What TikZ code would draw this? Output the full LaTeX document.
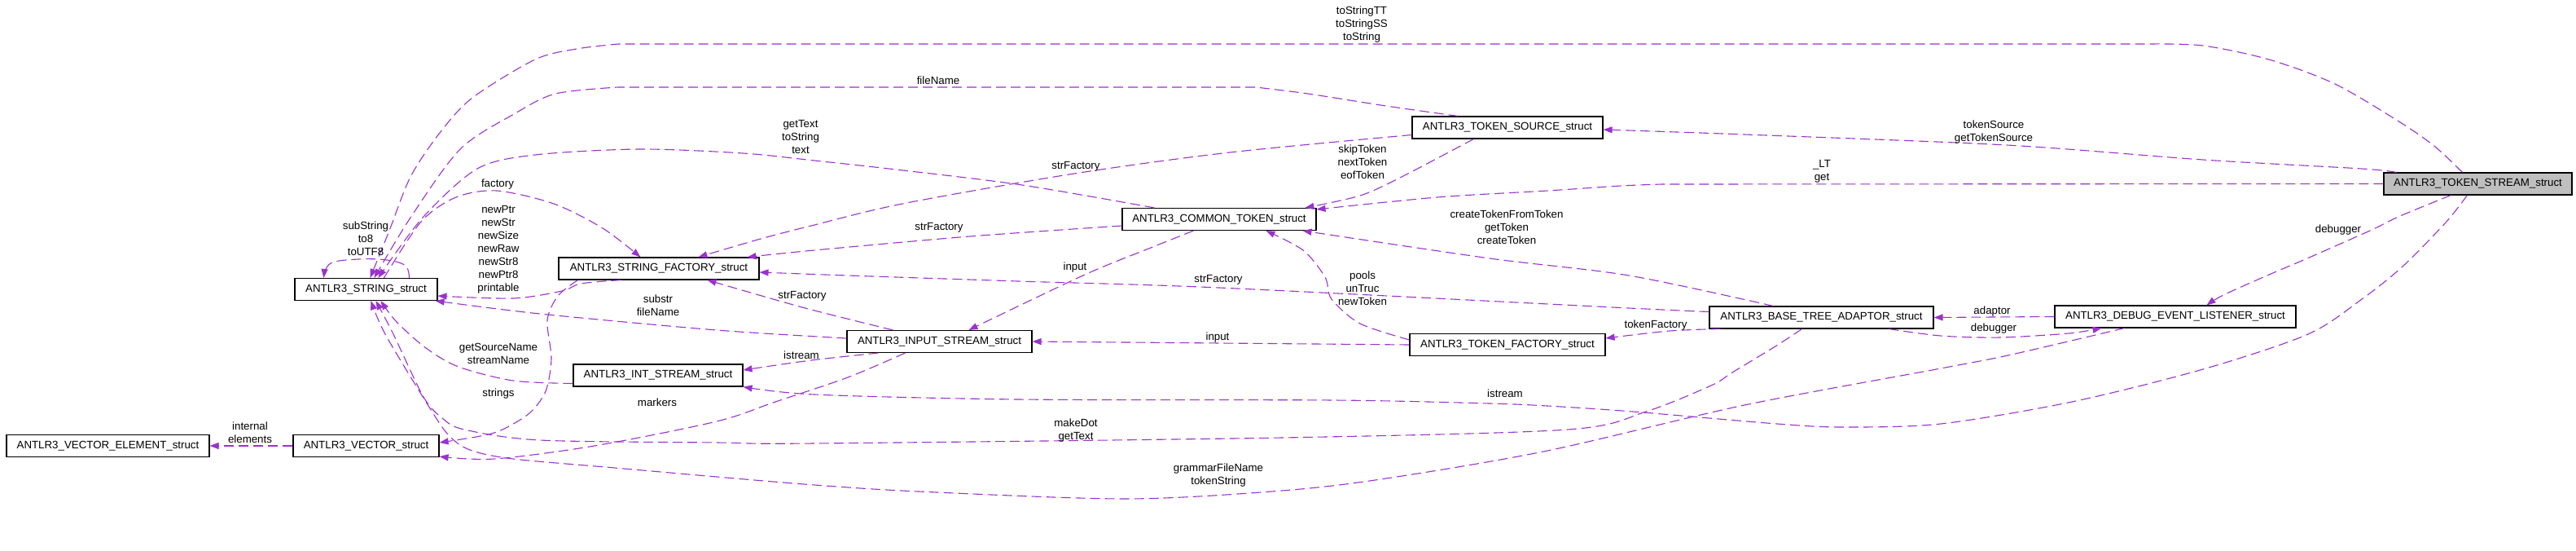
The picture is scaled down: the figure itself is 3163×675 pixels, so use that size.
\documentclass[tikz,border=0pt]{standalone}
\usepackage{fontspec}
\setmainfont{Liberation Sans}
\usetikzlibrary{arrows.meta}
\definecolor{edgec}{HTML}{9A32CD}
\definecolor{boxgray}{HTML}{BFBFBF}
\begin{document}
\begin{tikzpicture}[x=1pt,y=-1pt,
  box/.style={draw=black, line width=1.1pt, minimum height=27pt, inner sep=0pt, font=\fontsize{13.3}{16}\selectfont},
  edge/.style={draw=edgec, line width=1.1pt, dash pattern=on 12pt off 6pt, -{Triangle[length=11pt,width=8pt]}},
  lbl/.style={font=\fontsize{13.3}{16}\selectfont, align=center, inner sep=0pt, text=black}]
\useasboundingbox[fill=white] (0,0) rectangle (3163,675);

% nodes
\node[box, minimum width=231pt, fill=boxgray] (TS) at (3042.5,225.5) {ANTLR3\_TOKEN\_STREAM\_struct};
\node[box, minimum width=234pt] (TSRC) at (1851,156.5) {ANTLR3\_TOKEN\_SOURCE\_struct};
\node[box, minimum width=238pt] (CT) at (1497,269) {ANTLR3\_COMMON\_TOKEN\_struct};
\node[box, minimum width=246pt] (SF) at (809,329.5) {ANTLR3\_STRING\_FACTORY\_struct};
\node[box, minimum width=175pt] (STR) at (449.5,355) {ANTLR3\_STRING\_struct};
\node[box, minimum width=227pt] (IS) at (1153.5,419) {ANTLR3\_INPUT\_STREAM\_struct};
\node[box, minimum width=208pt] (INT) at (808,460.5) {ANTLR3\_INT\_STREAM\_struct};
\node[box, minimum width=249pt] (VE) at (132.5,547) {ANTLR3\_VECTOR\_ELEMENT\_struct};
\node[box, minimum width=179pt] (VEC) at (449.5,547) {ANTLR3\_VECTOR\_struct};
\node[box, minimum width=275pt] (BTA) at (2236.5,389.5) {ANTLR3\_BASE\_TREE\_ADAPTOR\_struct};
\node[box, minimum width=296pt] (DEL) at (2671,388.5) {ANTLR3\_DEBUG\_EVENT\_LISTENER\_struct};
\node[box, minimum width=240pt] (TF) at (1851,423) {ANTLR3\_TOKEN\_FACTORY\_struct};

% edges
% TS -> STR toString
\draw[edge] plot[smooth, tension=0.5] coordinates {([xshift=97pt]TS.north west) (2990,180) (2947,150) (2867,103) (2786,73) (2705,56) (2640,54)}
  -- plot[smooth, tension=0.5] coordinates {(759,54) (708,60) (657,73) (580,120) (540,163) (504,217) (478,283) ([xshift=93pt]STR.north west)};
% TSRC -> STR fileName
\draw[edge] plot[smooth, tension=0.5] coordinates {([xshift=57pt]TSRC.north west) (1702,130) (1606,115) (1542,107)}
  -- plot[smooth, tension=0.5] coordinates {(759,107) (682,115) (631,140) (565,183) (504,267) ([xshift=98pt]STR.north west)};
% CT -> STR getText
\draw[edge] plot[smooth, tension=0.5] coordinates {([xshift=40pt]CT.north west) (1255,227) (1100,208) (1000,197) (912,188) (785,183) (657,190) (586,207) (519,267) ([xshift=103pt]STR.north west)};
% STR -> SF factory
\draw[edge] plot[smooth, tension=0.5] coordinates {([xshift=110pt]STR.north west) (517,272) (560,242) (610,234) (680,250) (740,280) ([xshift=101pt]SF.north west)};
% STR self loop
\draw[edge] plot[smooth, tension=0.6] coordinates {([xshift=141pt]STR.north west) (498,326) (475,319) (440,318) (406,323) ([xshift=36pt]STR.north west)};
% SF -> STR printable
\draw[edge] plot[smooth, tension=0.5] coordinates {([xshift=77pt]SF.south west) (713,348) (690,357) (630,366) ([yshift=-8pt]STR.east)};
% IS -> STR substr
\draw[edge] plot[smooth, tension=0.5] coordinates {([yshift=4pt]IS.west) (880,405) (663,385) ([xshift=-3pt]STR.south east)};
% INT -> STR getSourceName
\draw[edge] plot[smooth, tension=0.5] coordinates {([yshift=-10pt]INT.west) (630,467) (563,450) (523,427) (487,395) ([xshift=106pt]STR.south west)};
% SF -> VEC strings
\draw[edge] plot[smooth, tension=0.5] coordinates {([xshift=24pt]SF.south west) (685,363) (672,393) (677,440) (670,480) (650,507) (617,527) (590,535) ([yshift=4pt]VEC.east)};
% VEC -> VE internal
\draw[edge] (VEC.west) -- (VE.east);
% IS -> VEC markers
\draw[edge] plot[smooth, tension=0.5] coordinates {([xshift=72pt]IS.south west) (1041,463) (952,493) (880,517) (730,547) (607,563) ([yshift=1pt]VEC.south east)};
% BTA -> STR makeDot
\draw[edge] plot[smooth, tension=0.5] coordinates {([xshift=114pt]BTA.south west) (2183,423) (2127,457) (2101,473) (2021,505) (1925,527) (1574,537) (1000,544) (880,543) (663,540) (570,527) (543,513) (520,487) (483,410) ([xshift=100pt]STR.south west)};
% DEL -> STR grammarFileName
\draw[edge] plot[smooth, tension=0.5] coordinates {([xshift=86pt]DEL.south west) (2470,435) (2383,452) (2142,497) (1900,553) (1702,587) (1574,602) (1383,612) (1128,603) (1000,595) (880,585) (755,574) (630,563) (577,552) (550,533) (523,493) (473,410) ([xshift=94pt]STR.south west)};
% TS -> INT istream
\draw[edge] plot[smooth, tension=0.5] coordinates {([xshift=103pt]TS.south west) (3003,273) (2950,327) (2900,367) (2834,410) (2705,453) (2544,493) (2383,520) (2262,524) (2182,520) (2005,505) (1900,498) (1829,495) (1638,491) (1250,490) (1000,484) (INT.south east)};
% TS -> TSRC tokenSource
\draw[edge] plot[smooth, tension=0.5] coordinates {([xshift=16pt]TS.north west) (2900,207) (2705,196) (2464,178) (2142,165) ([yshift=-2.5pt]TSRC.east)};
% TS -> CT _LT
\draw[edge] (TS.west) -- plot[smooth, tension=0.5] coordinates {(2041,226) (1990,228) (1900,234) (1765,242) ([yshift=-2pt]CT.north east)};
% TSRC -> CT skipToken
\draw[edge] plot[smooth, tension=0.5] coordinates {([xshift=76pt]TSRC.south west) (1721,217) (1670,240) ([xshift=225pt]CT.north west)};
% TSRC -> SF strFactory
\draw[edge] plot[smooth, tension=0.5] coordinates {([yshift=-9pt]TSRC.west) (1510,187) (1319,213) (1108,250) (996,277) (934,293) ([xshift=172pt]SF.north west)};
% CT -> SF strFactory
\draw[edge] plot[smooth, tension=0.5] coordinates {([yshift=-8pt]CT.west) (1191,290) (1000,307) ([xshift=232pt]SF.north west)};
% BTA -> SF strFactory
\draw[edge] plot[smooth, tension=0.5] coordinates {([yshift=7pt]BTA.west) (2000,378) (1497,353) (1250,345) (1041,338) ([yshift=-4.5pt]SF.east)};
% IS -> SF strFactory
\draw[edge] plot[smooth, tension=0.5] coordinates {([xshift=57pt]IS.north west) (985,377) ([xshift=183pt]SF.south west)};
% CT -> IS input
\draw[edge] plot[smooth, tension=0.5] coordinates {([xshift=88pt]CT.south west) (1418,302) (1332,337) ([xshift=150pt]IS.north west)};
% TF -> CT pools
\draw[edge] plot[smooth, tension=0.5] coordinates {([yshift=6pt]TF.west) (1670,397) (1635,367) (1627,340) (1600,307) ([xshift=177pt]CT.south west)};
% TF -> IS input
\draw[edge] (TF.west) -- (IS.east);
% BTA -> CT createToken
\draw[edge] plot[smooth, tension=0.5] coordinates {([xshift=79pt]BTA.north west) (2000,338) (1829,317) ([xshift=222pt]CT.south west)};
% BTA -> TF tokenFactory
\draw[edge] plot[smooth, tension=0.5] coordinates {([xshift=14pt]BTA.south west) (2050,406) ([yshift=8pt]TF.east)};
% DEL -> BTA adaptor
\draw[edge] (DEL.west) -- (BTA.east);
% BTA -> DEL debugger
\draw[edge] plot[smooth, tension=0.5] coordinates {([xshift=221pt]BTA.south west) (2383,412) (2456,414) (2540,409) ([xshift=58pt]DEL.south west)};
% TS -> DEL debugger
\draw[edge] plot[smooth, tension=0.5] coordinates {([xshift=83pt]TS.south west) (2947,265) (2910,283) (2833,317) (2786,337) (2730,362) ([xshift=187pt]DEL.north west)};
% IS -> INT istream
\draw[edge] plot[smooth, tension=0.5] coordinates {([xshift=39pt]IS.south west) (996,442) ([yshift=6.5pt]INT.east)};

% labels
\node[lbl] (l1) at (1672,30) {toStringTT\\toStringSS\\toString};
\node[lbl] (l2) at (1152,99) {fileName};
\node[lbl] (l3) at (983,168) {getText\\toString\\text};
\node[lbl] (l4) at (611,226) {factory};
\node[lbl] (l5) at (449,293) {subString\\to8\\toUTF8};
\node[lbl] (l6) at (612,306) {newPtr\\newStr\\newSize\\newRaw\\newStr8\\newPtr8\\printable};
\node[lbl] (l7) at (808,375) {substr\\fileName};
\node[lbl] (l8) at (612,434) {getSourceName\\streamName};
\node[lbl] (l9) at (612,483) {strings};
\node[lbl] (l10) at (307,531) {internal\\elements};
\node[lbl] (l11) at (807,494) {markers};
\node[lbl] (l12) at (1321,528) {makeDot\\getText};
\node[lbl] (l13) at (1496,583) {grammarFileName\\tokenString};
\node[lbl] (l14) at (1848,483) {istream};
\node[lbl] (l15) at (2448,162) {tokenSource\\getTokenSource};
\node[lbl] (l16) at (2237,210) {\_LT\\get};
\node[lbl] (l17) at (1673,199) {skipToken\\nextToken\\eofToken};
\node[lbl] (l18) at (1321,204) {strFactory};
\node[lbl] (l19) at (1153,279) {strFactory};
\node[lbl] (l20) at (1496,343) {strFactory};
\node[lbl] (l21) at (985,363) {strFactory};
\node[lbl] (l22) at (1320,328) {input};
\node[lbl] (l23) at (1673,354) {pools\\unTruc\\newToken};
\node[lbl] (l24) at (1495,414) {input};
\node[lbl] (l25) at (1850,279) {createTokenFromToken\\getToken\\createToken};
\node[lbl] (l26) at (2033,399) {tokenFactory};
\node[lbl] (l27) at (2446,382) {adaptor};
\node[lbl] (l28) at (2448,403) {debugger};
\node[lbl] (l29) at (2871,282) {debugger};
\node[lbl] (l30) at (984,436) {istream};
\end{tikzpicture}
\end{document}
